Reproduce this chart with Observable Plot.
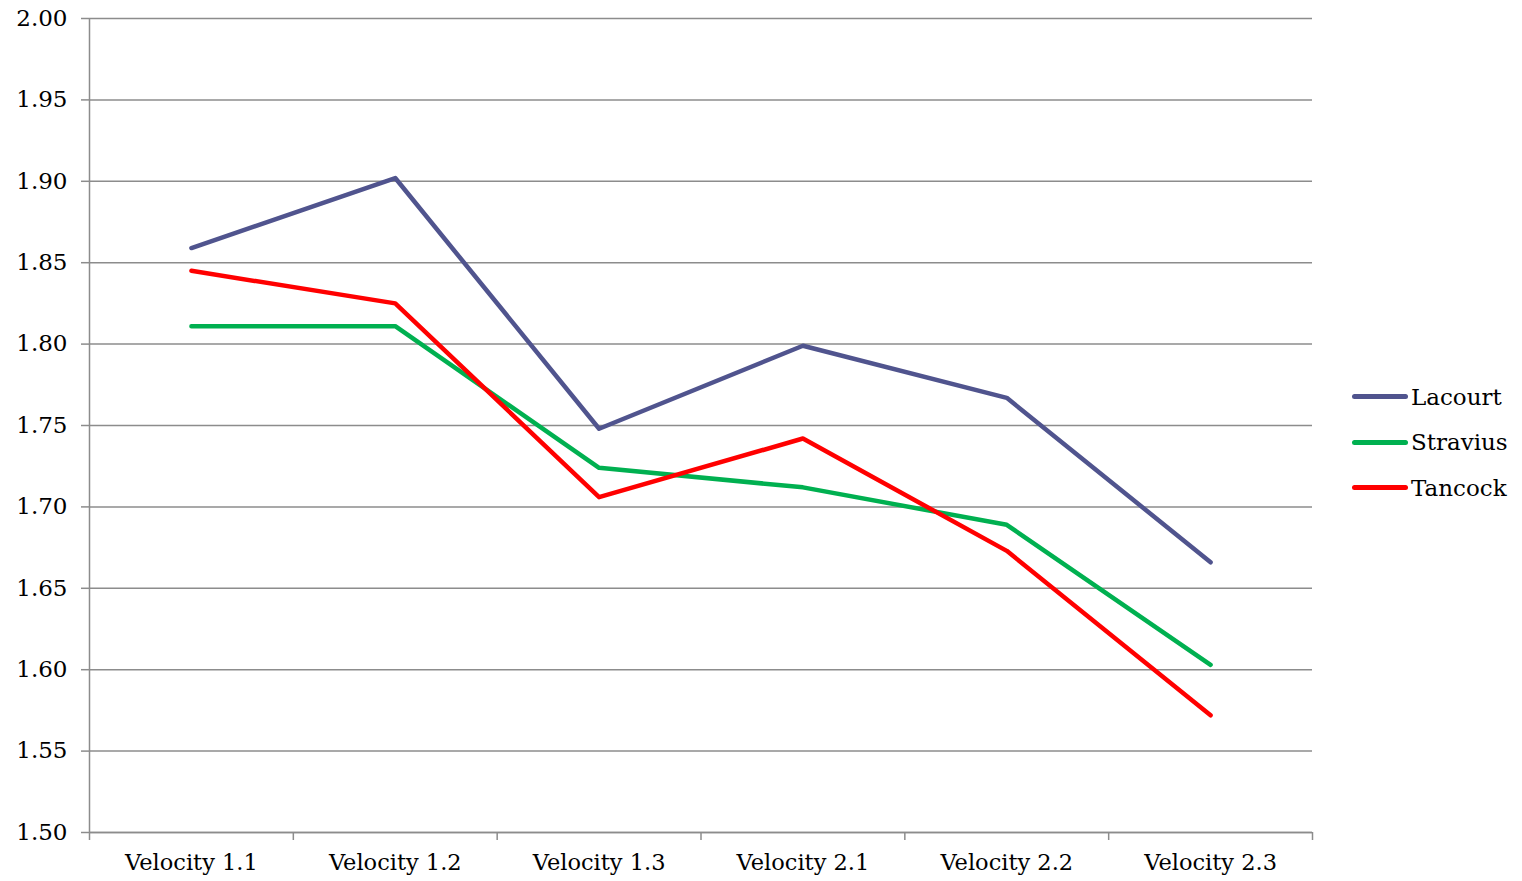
<!DOCTYPE html>
<html>
<head>
<meta charset="utf-8">
<script src="https://cdn.jsdelivr.net/npm/d3@7"></script>
<script src="https://cdn.jsdelivr.net/npm/@observablehq/plot@0.6"></script>
<style>
  html, body { margin: 0; padding: 0; background: #fff; }
  #wrap { position: relative; width: 1522px; height: 881px; }
  #legend { position: absolute; left: 1352px; top: 374px; font-family: 'DejaVu Serif', Georgia, serif; font-size: 23px; color: #000; }
  .item { display: flex; align-items: center; height: 45.5px; }
  .sw { width: 56px; height: 5px; border-radius: 3px; margin-right: 3px; }
</style>
</head>
<body>
<div id="wrap"><div id="legend"></div></div>
<script>
const categories = ["Velocity 1.1", "Velocity 1.2", "Velocity 1.3", "Velocity 2.1", "Velocity 2.2", "Velocity 2.3"];
const seriesNames = ["Lacourt", "Stravius", "Tancock"];
const lacourt  = [1.859, 1.902, 1.748, 1.799, 1.767, 1.666];
const stravius = [1.811, 1.811, 1.724, 1.712, 1.689, 1.603];
const tancock  = [1.845, 1.825, 1.706, 1.742, 1.673, 1.572];
const colors = ["#50548E", "#00B050", "#FF0000"];
const yTicks = [1.50, 1.55, 1.60, 1.65, 1.70, 1.75, 1.80, 1.85, 1.90, 1.95, 2.00];

const values = [lacourt, stravius, tancock];
const data = seriesNames.flatMap((s, k) => categories.map((c, i) => ({series: s, idx: i, cat: c, value: values[k][i]})));
const centers = categories.map((c, i) => i);
const boundaries = [...categories.map((c, i) => i - 0.5), categories.length - 0.5];
const gray = "#8c8c8c";

const chart = Plot.plot({
  width: 1522, height: 881,
  marginLeft: 89, marginRight: 210, marginTop: 18, marginBottom: 49,
  style: {fontFamily: "'DejaVu Serif', Georgia, serif", fontSize: "22px", color: "#000", background: "#fff"},
  x: {type: "linear", domain: [-0.5, categories.length - 0.5]},
  y: {domain: [1.5, 2.0]},
  color: {domain: seriesNames, range: colors},
  marks: [
    Plot.gridY(yTicks, {stroke: gray, strokeOpacity: 1, strokeWidth: 1.5}),
    Plot.axisY(yTicks, {tickSize: 8, tickPadding: 14, fontSize: 23, tickFormat: d => d.toFixed(2), stroke: gray, strokeWidth: 1.5, label: null}),
    Plot.ruleX([-0.5], {stroke: gray, strokeWidth: 1.5}),
    Plot.ruleY([1.5], {stroke: gray, strokeWidth: 1.5}),
    Plot.axisX(boundaries, {tickSize: 8, tickFormat: () => "", stroke: gray, strokeWidth: 1.5, label: null}),
    Plot.axisX(centers, {tickSize: 0, tickPadding: 22, fontSize: 22.5, tickFormat: i => categories[i], label: null}),
    Plot.line(data, {x: "idx", y: "value", z: "series", stroke: "series", strokeWidth: 4.5, strokeLinecap: "round", strokeLinejoin: "round"})
  ]
});
document.getElementById("wrap").prepend(chart);

const legend = document.getElementById("legend");
seriesNames.forEach((s, k) => {
  const it = document.createElement("div");
  it.className = "item";
  const sw = document.createElement("div");
  sw.className = "sw";
  sw.style.background = colors[k];
  const t = document.createElement("span");
  t.textContent = s;
  it.appendChild(sw); it.appendChild(t);
  legend.appendChild(it);
});
</script>
</body>
</html>
